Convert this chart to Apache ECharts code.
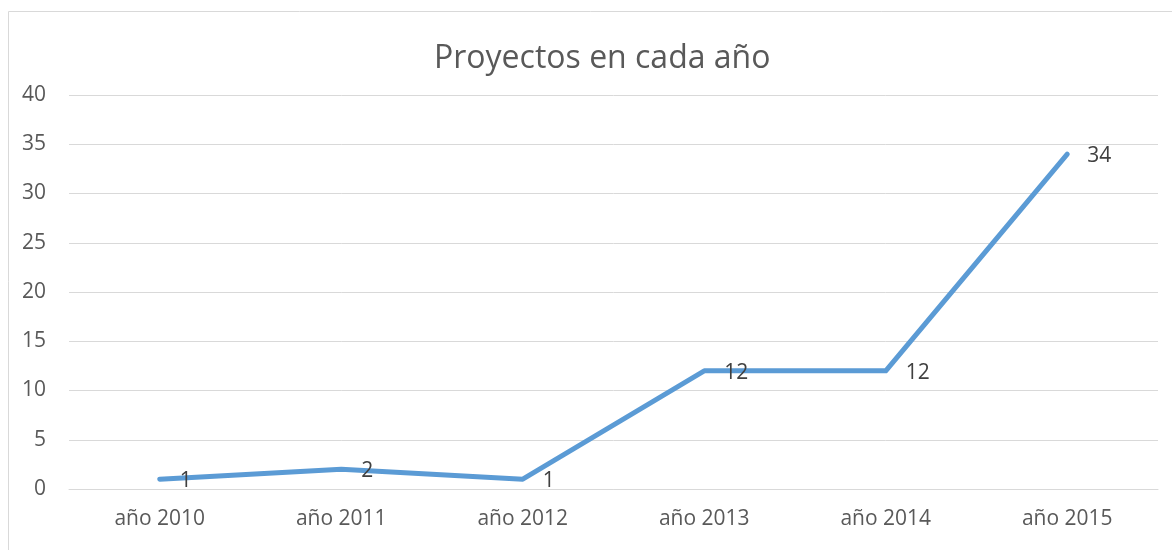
<!DOCTYPE html>
<html>
<head>
<meta charset="utf-8">
<script src="https://cdn.jsdelivr.net/npm/echarts@6/dist/echarts.min.js"></script>
<style>
  html, body { margin: 0; padding: 0; background: #fff; }
  #main { width: 1172px; height: 550px; }
</style>
</head>
<body>
<div id="main"></div>
<script>
var years = ['año 2010', 'año 2011', 'año 2012', 'año 2013', 'año 2014', 'año 2015'];
var proyectos = [1, 2, 1, 12, 12, 34];

var myChart = echarts.init(document.getElementById('main'));
var option = {
    textStyle: { fontFamily: 'Open Sans' },
    title: {
        text: 'Proyectos en cada año',
        left: 429,
        top: 38,
        textStyle: { color: '#595959', fontSize: 32, fontWeight: 'normal', fontFamily: 'Open Sans' }
    },
    graphic: [{
        type: 'rect',
        shape: { x: 8.5, y: 11.5, width: 1300, height: 700 },
        style: { fill: 'none', stroke: '#d9d9d9', lineWidth: 1 },
        silent: true
    }],
    grid: { left: 69, right: 14, top: 95, bottom: 61 },
    xAxis: {
        type: 'category',
        data: years,
        boundaryGap: true,
        axisLine: { show: true, lineStyle: { color: '#d9d9d9', width: 1 } },
        axisTick: { show: false },
        axisLabel: { color: '#595959', fontSize: 21, margin: 20 }
    },
    yAxis: {
        type: 'value',
        min: 0,
        max: 40,
        interval: 5,
        axisLine: { show: false },
        axisTick: { show: false },
        axisLabel: { color: '#595959', fontSize: 21, margin: 23 },
        splitLine: { lineStyle: { color: '#d9d9d9', width: 1 } }
    },
    series: [{
        name: 'Proyectos',
        type: 'line',
        data: proyectos,
        smooth: false,
        symbol: 'circle',
        symbolSize: 0,
        lineStyle: { color: '#5b9bd5', width: 5, cap: 'round', join: 'round' },
        itemStyle: { color: '#5b9bd5' },
        label: {
            show: true,
            position: 'right',
            distance: 20,
            offset: [0, 2],
            color: '#404040',
            fontSize: 21
        }
    }]
};
myChart.setOption(option);
</script>
</body>
</html>
